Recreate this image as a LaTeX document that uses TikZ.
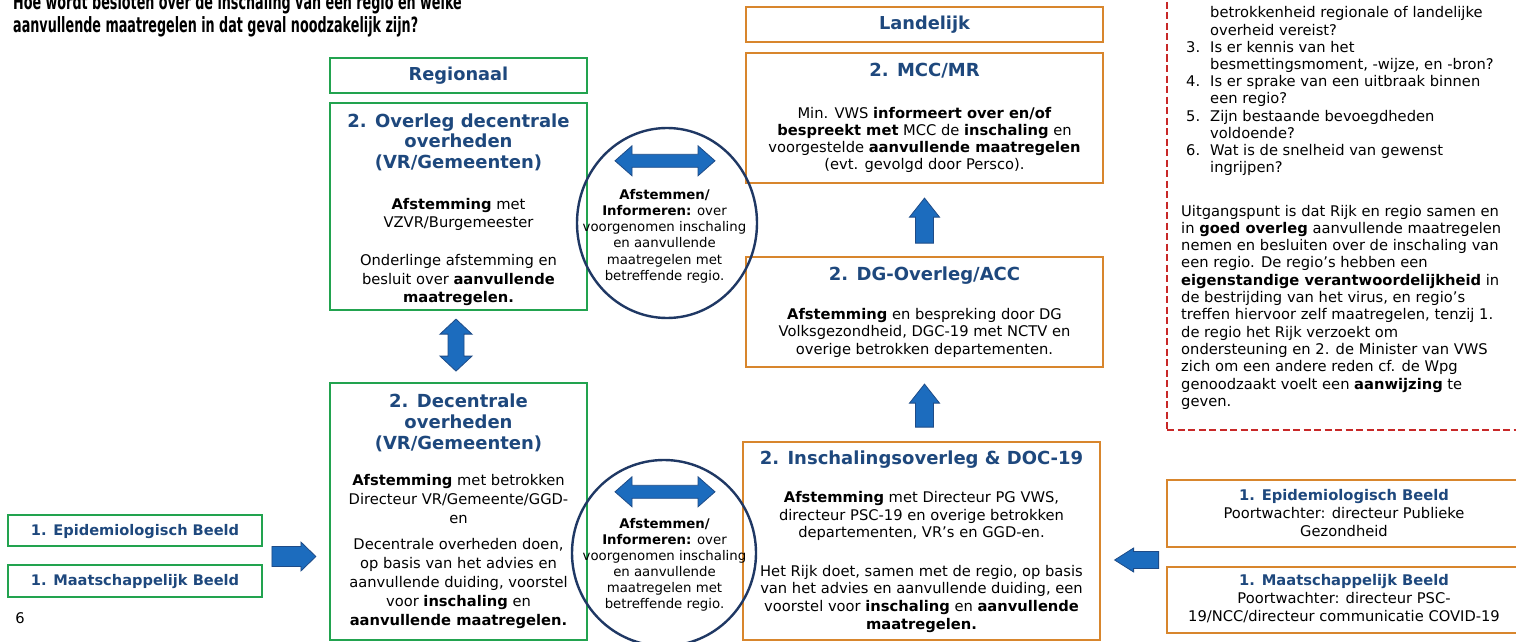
\documentclass[tikz,border=0pt]{standalone}
\usepackage{fontspec}
\setmainfont{DejaVu Sans}
\usepackage{graphicx}
\usetikzlibrary{calc,shapes.geometric}
\definecolor{gborder}{RGB}{34,163,79}
\definecolor{oborder}{RGB}{216,134,45}
\definecolor{hblue}{RGB}{30,72,125}
\definecolor{afill}{RGB}{28,108,190}
\definecolor{aline}{RGB}{30,75,135}
\definecolor{cline}{RGB}{31,56,100}
\definecolor{rdash}{RGB}{200,40,40}
\newcommand{\fs}[2]{\fontsize{#1}{#2}\selectfont}
\newcommand{\cl}[1]{\begin{tabular}[t]{@{}c@{}}#1\end{tabular}}
\newcommand{\lft}[1]{\begin{tabular}[t]{@{}l@{}}#1\end{tabular}}
\newcommand{\nb}[1]{\makebox[24pt][l]{#1}}
\newcommand{\ind}{\hspace*{24pt}}
% block arrows: #1 tip, #2 length, #3 head length, #4 head half width, #5 shaft half width
\newcommand{\BAup}[5]{\filldraw[blockarrow] (#1) -- ++(#4,#3) -- ++({-(#4-#5)},0) -- ++(0,{#2-#3}) -- ++({-2*#5},0) -- ++(0,{-(#2-#3)}) -- ++({-(#4-#5)},0) -- cycle;}
\newcommand{\BAleft}[5]{\filldraw[blockarrow] (#1) -- ++(#3,{-#4}) -- ++(0,{#4-#5}) -- ++({#2-#3},0) -- ++(0,{2*#5}) -- ++({-(#2-#3)},0) -- ++(0,{#4-#5}) -- cycle;}
\newcommand{\BAright}[5]{\filldraw[blockarrow] (#1) -- ++({-#3},{-#4}) -- ++(0,{#4-#5}) -- ++({-(#2-#3)},0) -- ++(0,{2*#5}) -- ++({#2-#3},0) -- ++(0,{#4-#5}) -- cycle;}
\newcommand{\BAdh}[5]{\filldraw[blockarrow] (#1) -- ++(#3,{-#4}) -- ++(0,{#4-#5}) -- ++({#2-2*#3},0) -- ++(0,{-(#4-#5)}) -- ++(#3,#4) -- ++({-#3},#4) -- ++(0,{-(#4-#5)}) -- ++({-(#2-2*#3)},0) -- ++(0,{#4-#5}) -- cycle;}
\newcommand{\BAdv}[5]{\filldraw[blockarrow] (#1) -- ++(#4,#3) -- ++({-(#4-#5)},0) -- ++(0,{#2-2*#3}) -- ++({#4-#5},0) -- ++({-#4},#3) -- ++({-#4},{-#3}) -- ++({#4-#5},0) -- ++(0,{-(#2-2*#3)}) -- ++({-(#4-#5)},0) -- cycle;}
\begin{document}
\begin{tikzpicture}[x=1pt,y=-1pt,
  gbox/.style={draw=gborder, line width=2.2pt, inner sep=0, rectangle},
  obox/.style={draw=oborder, line width=2.2pt, inner sep=0, rectangle},
  txt/.style={inner sep=0, anchor=base},
  head/.style={txt, text=hblue, font=\bfseries\fs{18}{20.5}},
  ring/.style={draw=cline, line width=2.4pt, ellipse, inner sep=0},
  blockarrow/.style={fill=afill, draw=aline, line width=0.8pt, line join=miter},
  notebox/.style={draw=rdash, line width=1.8pt, dash pattern=on 7pt off 3.5pt},
]
\useasboundingbox (0,0) rectangle (1516,642);
\fill[white] (0,0) rectangle (1516,642);
\clip (0,0) rectangle (1516,642);

% title
\node[inner sep=0, anchor=base west, font=\bfseries\fs{21}{23}] (title) at (13,9.3)
  {\lft{\scalebox{0.607}[1]{Hoe wordt besloten over de inschaling van een regio en welke}\\
        \scalebox{0.607}[1]{aanvullende maatregelen in dat geval noodzakelijk zijn?}}};

% boxes
\node[gbox, minimum width=257pt, minimum height=35pt] (reg) at (458.5,75.5) {};
\node[gbox, minimum width=257pt, minimum height=207pt] (ovl) at (458.5,206.5) {};
\node[gbox, minimum width=257pt, minimum height=257pt] (dec) at (458.5,511.5) {};
\node[obox, minimum width=357pt, minimum height=35pt] (land) at (924.5,24.5) {};
\node[obox, minimum width=357pt, minimum height=130pt] (mcc) at (924.5,118) {};
\node[obox, minimum width=357pt, minimum height=110pt] (dg) at (924.5,312) {};
\node[obox, minimum width=357pt, minimum height=198pt] (insch) at (921.5,541) {};
\node[gbox, minimum width=254pt, minimum height=31pt] (epiL) at (135,530.5) {};
\node[gbox, minimum width=254pt, minimum height=32pt] (maaL) at (135,581) {};
\node[obox, minimum width=354pt, minimum height=67pt] (epiR) at (1344,513.5) {};
\node[obox, minimum width=354pt, minimum height=66pt] (maaR) at (1344,600) {};
\node[notebox, rectangle, inner sep=0, minimum width=363pt, minimum height=460pt] (note) at (1348.5,200) {};

% headings
\node[head, font=\bfseries\fs{17.8}{20}] (landT) at (924.5,30) {Landelijk};
\node[head, font=\bfseries\fs{17.8}{20}] (regT) at (458.5,81) {Regionaal};
\node[head] (ovlH) at (458.5,127) {\cl{2. Overleg decentrale\\overheden\\(VR/Gemeenten)}};
\node[head, font=\bfseries\fs{18}{21}] (decH) at (458.5,407) {\cl{2. Decentrale\\overheden\\(VR/Gemeenten)}};
\node[head] (mccH) at (924.5,77) {2. MCC/MR};
\node[head] (dgH) at (924.5,280) {2. DG-Overleg/ACC};
\node[head] (inschH) at (921.5,464) {2. Inschalingsoverleg \& DOC-19};
\node[head, font=\bfseries\fs{14.6}{18}] (epiLT) at (135,535) {1. Epidemiologisch Beeld};
\node[head, font=\bfseries\fs{14.6}{18}] (maaLT) at (135,585) {1. Maatschappelijk Beeld};

% bodies
\node[txt, font=\fs{14.7}{18.7}] (ovlB) at (458.5,209)
  {\cl{\textbf{Afstemming} met\\VZVR/Burgemeester\\[19pt]Onderlinge afstemming en\\besluit over \textbf{aanvullende}\\\textbf{maatregelen.}}};
\node[txt, font=\fs{14.7}{18.8}] (decB) at (458.5,485.5)
  {\cl{\textbf{Afstemming} met betrokken\\Directeur VR/Gemeente/GGD-\\en\\[8pt]Decentrale overheden doen,\\op basis van het advies en\\aanvullende duiding, voorstel\\voor \textbf{inschaling} en\\\textbf{aanvullende maatregelen.}}};
\node[txt, font=\fs{14.7}{17.3}] (mccB) at (924.5,118)
  {\cl{Min. VWS \textbf{informeert over en/of}\\\textbf{bespreekt met} MCC de \textbf{inschaling} en\\voorgestelde \textbf{aanvullende maatregelen}\\(evt. gevolgd door Persco).}};
\node[txt, font=\fs{14.7}{17.5}] (dgB) at (924.5,319)
  {\cl{\textbf{Afstemming} en bespreking door DG\\Volksgezondheid, DGC-19 met NCTV en\\overige betrokken departementen.}};
\node[txt, font=\fs{14.7}{17.6}] (inschB) at (921.5,502.7)
  {\cl{\textbf{Afstemming} met Directeur PG VWS,\\directeur PSC-19 en overige betrokken\\departementen, VR’s en GGD-en.\\[20.8pt]Het Rijk doet, samen met de regio, op basis\\van het advies en aanvullende duiding, een\\voorstel voor \textbf{inschaling} en \textbf{aanvullende}\\\textbf{maatregelen.}}};
\node[txt, font=\fs{14.7}{18}] (epiRT) at (1344,500)
  {\cl{{\color{hblue}\bfseries 1. Epidemiologisch Beeld}\\Poortwachter: directeur Publieke\\Gezondheid}};
\node[txt, font=\fs{14.7}{18}] (maaRT) at (1344,585)
  {\cl{{\color{hblue}\bfseries 1. Maatschappelijk Beeld}\\Poortwachter: directeur PSC-\\19/NCC/directeur communicatie COVID-19}};
\node[txt, font=\fs{14.7}{18}] (page) at (20,623) {6};

% note text
\node[inner sep=0, anchor=base west, font=\fs{14.7}{17.2}] (noteL) at (1186,18)
  {\lft{\ind betrokkenheid regionale of landelijke\\\ind overheid vereist?\\\nb{3.}Is er kennis van het\\\ind besmettingsmoment, -wijze, en -bron?\\\nb{4.}Is er sprake van een uitbraak binnen\\\ind een regio?\\\nb{5.}Zijn bestaande bevoegdheden\\\ind voldoende?\\\nb{6.}Wat is de snelheid van gewenst\\\ind ingrijpen?}};
\node[inner sep=0, anchor=base west, font=\fs{14.7}{17.3}] (noteP) at (1181,216)
  {\lft{Uitgangspunt is dat Rijk en regio samen en\\in \textbf{goed overleg} aanvullende maatregelen\\nemen en besluiten over de inschaling van\\een regio. De regio’s hebben een\\\textbf{eigenstandige verantwoordelijkheid} in\\de bestrijding van het virus, en regio’s\\treffen hiervoor zelf maatregelen, tenzij 1.\\de regio het Rijk verzoekt om\\ondersteuning en 2. de Minister van VWS\\zich om een andere reden cf. de Wpg\\genoodzaakt voelt een \textbf{aanwijzing} te\\geven.}};

% circles with text
\node[ring, minimum width=180pt, minimum height=190pt] (c1) at (667,223) {};
\node[ring, minimum width=184pt, minimum height=186pt] (c2) at (664,553) {};
\node[txt, font=\fs{13.3}{16.3}] (c1T) at (664.5,199)
  {\cl{\textbf{Afstemmen/}\\\textbf{Informeren:} over\\voorgenomen inschaling\\en aanvullende\\maatregelen met\\betreffende regio.}};
\node[txt, font=\fs{13.3}{16.0}] (c2T) at (664.5,528)
  {\cl{\textbf{Afstemmen/}\\\textbf{Informeren:} over\\voorgenomen inschaling\\en aanvullende\\maatregelen met\\betreffende regio.}};

% block arrows
\coordinate (up1) at ($(mcc.south)+(0,14)$);
\coordinate (up2) at ($(dg.south)+(0,16)$);
\coordinate (lt) at ($(insch.east)+(13.5,19)$);
\coordinate (rt) at ($(dec.west)+(-13,45)$);
\coordinate (dv) at ($(ovl.south)+(-2.5,8)$);
\coordinate (dh1) at ($(c1.north)+(-52,34)$);
\coordinate (dh2) at ($(c2.north)+(-49,33)$);
\BAup{up1}{45}{19}{15}{9}
\BAup{up2}{43}{19}{15}{9}
\BAleft{lt}{44}{19}{12}{8.5}
\BAright{rt}{44}{15}{14.5}{10}
\BAdv{dv}{52}{15}{16}{8}
\BAdh{dh1}{100}{17}{15}{6.5}
\BAdh{dh2}{100}{17}{15}{6.5}
\end{tikzpicture}
\end{document}
